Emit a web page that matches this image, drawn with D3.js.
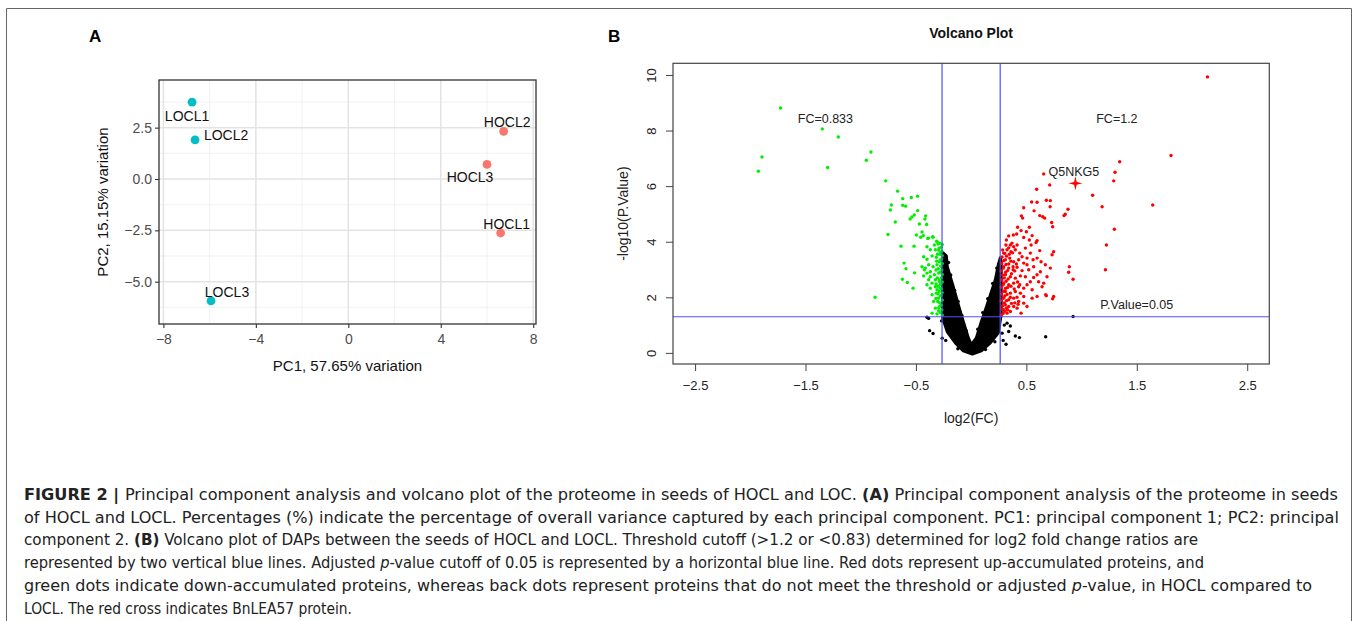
<!DOCTYPE html>
<html>
<head>
<meta charset="utf-8">
<script src="https://cdn.jsdelivr.net/npm/d3@7"></script>
<style>
body { margin: 0; background: #fff; }
svg { display: block; font-family: "Liberation Sans", Arial, sans-serif; }
</style>
</head>
<body>
<svg id="fig" width="1358" height="621"></svg>
<script>
"use strict";

// ---- panel A: PCA ----
const pcaSamples = ["LOCL1", "LOCL2", "LOCL3", "HOCL1", "HOCL2", "HOCL3"];
const pcaGroup   = ["LOCL", "LOCL", "LOCL", "HOCL", "HOCL", "HOCL"];
const pcaPC1     = [-6.76, -6.63, -5.94, 6.59, 6.72, 6.00];
const pcaPC2     = [3.74, 1.90, -5.93, -2.63, 2.32, 0.71];
const pcaXTicks  = [-8, -4, 0, 4, 8];
const pcaYTicks  = [-5.0, -2.5, 0.0, 2.5];

// ---- panel B: volcano ----
const fcCut = [0.833, 1.2];
const pCut = 0.05;
const volXTicks = [-2.5, -1.5, -0.5, 0.5, 1.5, 2.5];
const volYTicks = [0, 2, 4, 6, 8, 10];

// down-accumulated (green) [log2FC, -log10 p]
const greenPts = [
  [-1.726,8.81],[-1.348,8.06],[-1.203,7.77],[-1.894,7.05],[-1.927,6.54],[-1.300,6.67],
  [-0.907,7.23],[-0.949,6.93],[-0.774,6.19],[-0.666,5.82],[-0.620,5.55],[-0.542,5.59],
  [-0.485,5.64],[-0.723,5.32],[-0.732,5.14],[-0.620,5.31],[-0.593,5.28],[-0.485,5.12],
  [-0.536,4.89],[-0.515,4.96],[-0.553,4.82],[-0.412,4.93],[-0.418,4.82],[-0.687,4.71],
  [-0.469,4.64],[-0.403,4.62],[-0.753,4.26],[-0.496,4.24],[-0.445,4.35],[-0.433,4.22],
  [-0.457,4.16],[-0.394,4.12],[-0.349,4.18],[-0.309,4.00],[-0.635,3.84],[-0.517,3.84],
  [-0.608,3.23],[-0.590,3.03],[-0.512,2.88],[-0.623,2.65],[-0.578,2.53],[-0.526,2.33],
  [-0.870,2.00],
  [-0.385,4.13],[-0.345,4.16],[-0.312,4.02],[-0.333,3.88],[-0.300,3.92],[-0.400,3.82],
  [-0.370,3.71],[-0.324,3.71],[-0.291,3.77],[-0.279,3.61],[-0.430,3.46],[-0.400,3.37],
  [-0.354,3.49],[-0.315,3.44],[-0.279,3.35],[-0.445,3.10],[-0.415,3.05],[-0.385,3.17],
  [-0.345,3.10],[-0.309,3.17],[-0.430,2.77],[-0.400,2.87],[-0.370,2.92],[-0.333,2.81],
  [-0.294,2.87],[-0.385,2.63],[-0.354,2.51],[-0.324,2.63],[-0.285,2.56],[-0.370,2.33],
  [-0.324,2.38],[-0.279,2.33],[-0.354,2.09],[-0.315,2.15],[-0.279,2.05],[-0.340,1.85],
  [-0.303,1.85],[-0.324,1.61],[-0.285,1.67],[-0.354,1.43],[-0.309,1.40],[-0.424,2.99],
  [-0.370,2.74],[-0.400,2.45],[-0.309,2.27],
  [-0.262,1.36],[-0.281,1.45],[-0.266,1.55],[-0.293,1.62],[-0.270,1.72],[-0.285,1.80],
  [-0.262,1.90],[-0.296,1.97],[-0.274,2.07],[-0.263,2.17],[-0.289,2.22],[-0.268,2.31],
  [-0.300,2.40],[-0.278,2.46],[-0.262,2.55],[-0.290,2.62],[-0.270,2.70],[-0.262,2.82],
  [-0.283,2.90],[-0.266,2.98],[-0.298,3.03],[-0.275,3.12],[-0.262,3.22],[-0.288,3.28],
  [-0.268,3.38],[-0.262,3.50],[-0.282,3.55],[-0.265,3.66],[-0.294,3.70],[-0.270,3.80],
  [-0.262,3.90],[-0.283,3.95],[-0.305,3.55],[-0.312,3.30],[-0.318,2.98],[-0.306,2.70],
  [-0.318,2.48],[-0.300,2.13],[-0.320,1.96],[-0.295,1.52]
];

// up-accumulated (red)
const redPts = [
  [2.140,9.93],[1.810,7.10],[1.345,6.88],[1.303,6.50],[1.291,6.19],[1.100,5.67],
  [1.186,5.26],[1.644,5.32],[1.297,4.45],[1.225,3.88],[1.216,2.99],[0.657,6.44],
  [0.711,6.04],[0.593,5.89],[0.548,5.43],[0.597,5.42],[0.681,5.49],[0.717,5.48],
  [0.476,5.22],[0.570,5.11],[0.715,5.26],[0.877,5.17],[0.852,4.99],[0.841,4.94],
  [0.455,4.93],[0.466,4.85],[0.621,4.94],[0.648,4.90],[0.666,4.85],[0.729,4.69],
  [0.738,4.54],[0.421,4.52],[0.452,4.40],[0.527,4.52],[0.500,4.36],[0.382,4.24],
  [0.412,4.28],[0.476,4.15],[0.552,4.22],[0.597,4.04],[0.340,4.21],[0.527,4.06],
  [0.588,3.97],[0.543,3.88],[0.319,4.06],[0.355,3.88],[0.385,3.82],[0.416,3.88],
  [0.491,3.77],[0.621,3.68],[0.747,3.64],[0.536,3.59],[0.597,3.41],[0.561,3.35],
  [0.633,3.28],[0.733,3.53],[0.476,3.23],[0.506,3.17],[0.717,3.05],[0.889,3.10],
  [0.883,2.90],[0.923,2.65],[0.627,2.92],[0.597,2.81],[0.566,2.71],[0.536,2.56],
  [0.506,2.45],[0.476,2.33],[0.657,2.51],[0.642,2.38],[0.747,2.03],[0.681,2.06],
  [0.597,2.03],[0.552,1.97],[0.476,1.79],[0.452,1.43],[0.416,1.61],[0.385,1.67],
  [0.355,1.49],[0.340,1.67],[0.506,1.67],[0.738,1.95],[0.675,2.09],
  [0.294,3.59],[0.325,3.71],[0.361,3.64],[0.400,3.71],[0.440,3.59],[0.310,3.35],
  [0.349,3.41],[0.385,3.28],[0.430,3.35],[0.461,3.46],[0.294,3.10],[0.340,3.05],
  [0.380,2.99],[0.416,3.08],[0.461,2.96],[0.310,2.81],[0.355,2.74],[0.400,2.69],
  [0.446,2.77],[0.294,2.51],[0.340,2.45],[0.385,2.51],[0.430,2.38],[0.310,2.21],
  [0.355,2.15],[0.400,2.21],[0.446,2.15],[0.294,1.97],[0.340,1.91],[0.385,1.97],
  [0.430,1.85],[0.310,1.73],[0.294,1.55],[0.325,1.43],[0.370,3.95],[0.491,2.74],
  [0.521,2.99],[0.506,3.41],[0.566,3.10],[0.672,3.17],[0.476,2.03],[0.552,2.27],
  [0.611,2.56],[0.687,2.74],
  [0.272,1.36],[0.290,1.42],[0.305,1.50],[0.278,1.58],[0.318,1.62],[0.285,1.70],
  [0.300,1.80],[0.272,1.88],[0.320,1.88],[0.288,1.98],[0.305,2.05],[0.275,2.12],
  [0.325,2.10],[0.292,2.22],[0.310,2.32],[0.273,2.36],[0.330,2.35],[0.290,2.45],
  [0.316,2.58],[0.278,2.62],[0.300,2.70],[0.335,2.66],[0.285,2.80],[0.312,2.90],
  [0.272,2.95],[0.330,2.96],[0.292,3.05],[0.315,3.18],[0.276,3.22],[0.340,3.20],
  [0.295,3.32],[0.320,3.48],[0.280,3.45],[0.305,3.58],[0.345,3.55],[0.285,3.70],
  [0.340,3.78],[0.315,3.88],[0.360,3.30],[0.365,2.85],[0.360,2.40],[0.355,2.00],
  [0.365,1.78],[0.330,1.55],[0.375,3.60],[0.380,3.10],[0.395,2.95],[0.410,3.20],
  [0.420,2.55],[0.390,2.30],[0.415,2.00],[0.395,1.80],[0.425,1.75],[0.440,2.45]
];

// not significant (black): dense V outline + scattered points
const blackCloud = [
  [-0.2545,3.60],[-0.2246,3.49],[-0.2156,3.09],[-0.1612,2.37],[-0.116,1.73],
  [-0.0707,1.12],[-0.0254,0.54],[0.0018,0.29],[0.047,0.54],[0.092,1.12],
  [0.138,1.65],[0.183,2.19],[0.219,2.63],[0.246,3.17],[0.264,3.42],[0.272,3.27],
  [0.272,1.37],[0.246,0.72],[0.174,0.36],[0.092,0.07],[0.011,-0.04],
  [-0.071,0.07],[-0.143,0.36],[-0.216,0.76],[-0.259,1.26],[-0.259,2.99]
];
const blackPts = [
  [-0.400,1.28],[-0.385,1.24],[-0.376,0.80],[-0.345,0.70],[-0.262,0.53],[-0.268,1.15],
  [0.923,1.31],[0.675,0.58],[0.325,1.07],[0.355,0.97],[0.400,0.61],[0.437,0.55],
  [0.316,0.31],[0.280,0.71],[0.340,0.77],[0.300,1.00],[0.290,0.45],
  [-0.205,3.25],[-0.185,2.80],[-0.150,2.25],[-0.118,1.85],[-0.085,1.35],[-0.045,0.80],
  [0.060,0.85],[0.105,1.45],[0.150,1.95],[0.195,2.50],[0.232,3.05],[-0.230,0.45],
  [0.215,0.40],[-0.120,0.15],[0.130,0.12]
];

const highlight = { name: "Q5NKG5", fc: 0.944, p: 6.10 };
const volNotes = [
  { text: "FC=0.833", x: -1.32, y: 8.42 },
  { text: "FC=1.2", x: 1.32, y: 8.42 },
  { text: "P.Value=0.05", x: 1.50, y: 1.73 },
  { text: "Q5NKG5", x: 0.93, y: 6.52 }
];

// ---- caption ----
const captionLines = [
  [["b", "FIGURE 2 | "], ["", "Principal component analysis and volcano plot of the proteome in seeds of HOCL and LOC. "], ["b", "(A)"], ["", " Principal component analysis of the proteome in seeds"]],
  [["", "of HOCL and LOCL. Percentages (%) indicate the percentage of overall variance captured by each principal component. PC1: principal component 1; PC2: principal"]],
  [["", "component 2. "], ["b", "(B)"], ["", " Volcano plot of DAPs between the seeds of HOCL and LOCL. Threshold cutoff (>1.2 or <0.83) determined for log2 fold change ratios are"]],
  [["", "represented by two vertical blue lines. Adjusted "], ["i", "p"], ["", "-value cutoff of 0.05 is represented by a horizontal blue line. Red dots represent up-accumulated proteins, and"]],
  [["", "green dots indicate down-accumulated proteins, whereas back dots represent proteins that do not meet the threshold or adjusted "], ["i", "p"], ["", "-value, in HOCL compared to"]],
  [["", "LOCL. The red cross indicates BnLEA57 protein."]]
];
const captionWidths = [1314, 1315, 1174, 1180, 1288, 328];

const svg = d3.select("#fig");

// figure frame
svg.append("path")
  .attr("d", "M6.5,621 V8.5 H1351.5 V621")
  .attr("fill", "none").attr("stroke", "#666").attr("stroke-width", 1);

// panel letters
svg.append("text").attr("x", 89).attr("y", 42).text("A")
  .style("font-weight", "bold").style("font-size", "17px");
svg.append("text").attr("x", 608).attr("y", 42).text("B")
  .style("font-weight", "bold").style("font-size", "17px");

// ================= PCA =================
const pa = { left: 159, right: 536, top: 80, bottom: 324 };
const px = d3.scaleLinear().domain([-8.19, 8.12]).range([pa.left, pa.right]);
const py = d3.scaleLinear().domain([-7.06, 4.82]).range([pa.bottom, pa.top]);
const pca = svg.append("g");

const xMinor = [-6, -2, 2, 6];
const yMinor = [3.75, 1.25, -1.25, -3.75, -6.25];
pca.selectAll(".vmin").data(xMinor).join("line")
  .attr("x1", d => px(d)).attr("x2", d => px(d)).attr("y1", pa.top).attr("y2", pa.bottom)
  .attr("stroke", "#ededed").attr("stroke-width", 0.7);
pca.selectAll(".hmin").data(yMinor).join("line")
  .attr("y1", d => py(d)).attr("y2", d => py(d)).attr("x1", pa.left).attr("x2", pa.right)
  .attr("stroke", "#ededed").attr("stroke-width", 0.7);
pca.selectAll(".vmaj").data(pcaXTicks).join("line")
  .attr("x1", d => px(d)).attr("x2", d => px(d)).attr("y1", pa.top).attr("y2", pa.bottom)
  .attr("stroke", "#e3e3e3").attr("stroke-width", 1.5);
pca.selectAll(".hmaj").data(pcaYTicks).join("line")
  .attr("y1", d => py(d)).attr("y2", d => py(d)).attr("x1", pa.left).attr("x2", pa.right)
  .attr("stroke", "#e3e3e3").attr("stroke-width", 1.5);

const pxAxis = pca.append("g").attr("transform", `translate(0,${pa.bottom})`)
  .call(d3.axisBottom(px).tickValues(pcaXTicks).tickSize(4).tickSizeOuter(0).tickFormat(d3.format("d")));
const pyAxis = pca.append("g").attr("transform", `translate(${pa.left},0)`)
  .call(d3.axisLeft(py).tickValues(pcaYTicks).tickSize(4).tickSizeOuter(0).tickFormat(d3.format(".1f")));
[pxAxis, pyAxis].forEach(a => {
  a.select(".domain").remove();
  a.selectAll("line").attr("stroke", "#333").attr("stroke-width", 1.1);
  a.selectAll("text").attr("fill", "#4d4d4d").style("font-size", "14px")
    .style("font-family", "'Liberation Sans', Arial, sans-serif");
});
pxAxis.selectAll("text").attr("dy", "0.95em");
pyAxis.selectAll("text").attr("x", -7);

pca.append("rect").attr("x", pa.left).attr("y", pa.top)
  .attr("width", pa.right - pa.left).attr("height", pa.bottom - pa.top)
  .attr("fill", "none").attr("stroke", "#333").attr("stroke-width", 1.3);

const groupColor = d3.scaleOrdinal().domain(["HOCL", "LOCL"]).range(["#F8766D", "#00BFC4"]);
const pcaData = pcaSamples.map((s, i) => ({ name: s, group: pcaGroup[i], x: pcaPC1[i], y: pcaPC2[i] }));
pca.selectAll(".pt").data(pcaData).join("circle")
  .attr("cx", d => px(d.x)).attr("cy", d => py(d.y)).attr("r", 4.4)
  .attr("fill", d => groupColor(d.group));

// repel-style label offsets (px)
const labelShift = {
  LOCL1: [-5, 13.5], LOCL2: [31, -4.5], LOCL3: [16, -9],
  HOCL1: [6, -9.5], HOCL2: [3.5, -9.5], HOCL3: [-17, 12.5]
};
pca.selectAll(".lab").data(pcaData).join("text")
  .attr("x", d => px(d.x) + labelShift[d.name][0])
  .attr("y", d => py(d.y) + labelShift[d.name][1])
  .attr("text-anchor", "middle").attr("dominant-baseline", "central")
  .attr("fill", "#111").style("font-size", "14px").text(d => d.name);

pca.append("text").attr("x", (pa.left + pa.right) / 2).attr("y", 371)
  .attr("text-anchor", "middle").style("font-size", "15px").attr("fill", "#111")
  .text("PC1, 57.65% variation");
pca.append("text").attr("transform", `translate(108,${(pa.top + pa.bottom) / 2}) rotate(-90)`)
  .attr("text-anchor", "middle").style("font-size", "15px").attr("fill", "#111")
  .text("PC2, 15.15% variation");

// ================= Volcano =================
const va = { left: 673, right: 1269.3, top: 63.3, bottom: 364 };
const vx = d3.scaleLinear().domain([-2.7, 2.7]).range([va.left, va.right]);
const vy = d3.scaleLinear().domain([-0.4, 10.42]).range([va.bottom, va.top]);
const vol = svg.append("g");

const poly = d3.line().x(d => vx(d[0])).y(d => vy(d[1])).curve(d3.curveLinearClosed);
const dots = (pts, col) => vol.append("g").selectAll("circle").data(pts).join("circle")
  .attr("cx", d => vx(d[0])).attr("cy", d => vy(d[1])).attr("r", 1.7).attr("fill", col);

vol.append("path").attr("d", poly(blackCloud))
  .attr("fill", "#000").attr("stroke", "#000").attr("stroke-width", 3).attr("stroke-linejoin", "round");
dots(blackPts, "#000");
dots(greenPts, "#00ee00");
dots(redPts, "#ff0000");

// threshold lines
const blue = "#5050ff";
fcCut.forEach(fc => {
  vol.append("line").attr("x1", vx(Math.log2(fc))).attr("x2", vx(Math.log2(fc)))
    .attr("y1", va.top).attr("y2", va.bottom).attr("stroke", blue).attr("stroke-width", 1.2);
});
vol.append("line").attr("x1", va.left).attr("x2", va.right)
  .attr("y1", vy(-Math.log10(pCut))).attr("y2", vy(-Math.log10(pCut)))
  .attr("stroke", blue).attr("stroke-width", 1.2);

// highlighted protein: red four-point cross
const star = "M0,-7 L1.3,-1.3 L7,0 L1.3,1.3 L0,7 L-1.3,1.3 L-7,0 L-1.3,-1.3 Z";
vol.append("path").attr("d", star)
  .attr("transform", `translate(${vx(highlight.fc)},${vy(highlight.p)})`)
  .attr("fill", "#ff0000");

vol.selectAll(".note").data(volNotes).join("text")
  .attr("x", d => vx(d.x)).attr("y", d => vy(d.y))
  .attr("text-anchor", "middle").attr("dominant-baseline", "central")
  .style("font-size", "12.5px").attr("fill", "#222").text(d => d.text);

vol.append("rect").attr("x", va.left).attr("y", va.top)
  .attr("width", va.right - va.left).attr("height", va.bottom - va.top)
  .attr("fill", "none").attr("stroke", "#444").attr("stroke-width", 1.2);

const vxAxis = vol.append("g").attr("transform", `translate(0,${va.bottom})`)
  .call(d3.axisBottom(vx).tickValues(volXTicks).tickSize(7).tickSizeOuter(0).tickFormat(d3.format(".1f")));
const vyAxis = vol.append("g").attr("transform", `translate(${va.left},0)`)
  .call(d3.axisLeft(vy).tickValues(volYTicks).tickSize(7).tickSizeOuter(0).tickFormat(d3.format("d")));
[vxAxis, vyAxis].forEach(a => {
  a.select(".domain").remove();
  a.selectAll("line").attr("stroke", "#444");
  a.selectAll("text").attr("fill", "#222").style("font-size", "13px")
    .style("font-family", "'Liberation Sans', Arial, sans-serif");
});
vxAxis.selectAll("text").attr("y", 17).attr("dy", "0.71em");
vyAxis.selectAll("text")
  .attr("x", null).attr("dy", null)
  .attr("transform", "translate(-22,0) rotate(-90)")
  .attr("text-anchor", "middle").attr("dominant-baseline", "central");

vol.append("text").attr("x", (va.left + va.right) / 2).attr("y", 418)
  .attr("text-anchor", "middle").attr("dominant-baseline", "central")
  .style("font-size", "14px").attr("fill", "#222").text("log2(FC)");
vol.append("text").attr("transform", `translate(623,${(va.top + va.bottom) / 2}) rotate(-90)`)
  .attr("text-anchor", "middle").attr("dominant-baseline", "central")
  .style("font-size", "14px").attr("fill", "#222").text("-log10(P.Value)");
vol.append("text").attr("x", (va.left + va.right) / 2).attr("y", 33)
  .attr("text-anchor", "middle").attr("dominant-baseline", "central")
  .style("font-size", "14px").style("font-weight", "bold").attr("fill", "#111").text("Volcano Plot");

// ================= caption =================
const cap = svg.append("g").style("font-family", "'DejaVu Sans Condensed','DejaVu Sans','Liberation Sans',sans-serif")
  .style("font-stretch", "condensed").style("font-size", "15.5px").attr("fill", "#222");
captionLines.forEach((parts, i) => {
  const t = cap.append("text").attr("x", 24).attr("y", 500 + i * 22.7)
    .attr("textLength", captionWidths[i]).attr("lengthAdjust", "spacingAndGlyphs");
  parts.forEach(([style, str]) => {
    const s = t.append("tspan").text(str);
    if (style === "b") s.style("font-weight", "bold");
    if (style === "i") s.style("font-style", "italic");
  });
});
</script>
</body>
</html>
